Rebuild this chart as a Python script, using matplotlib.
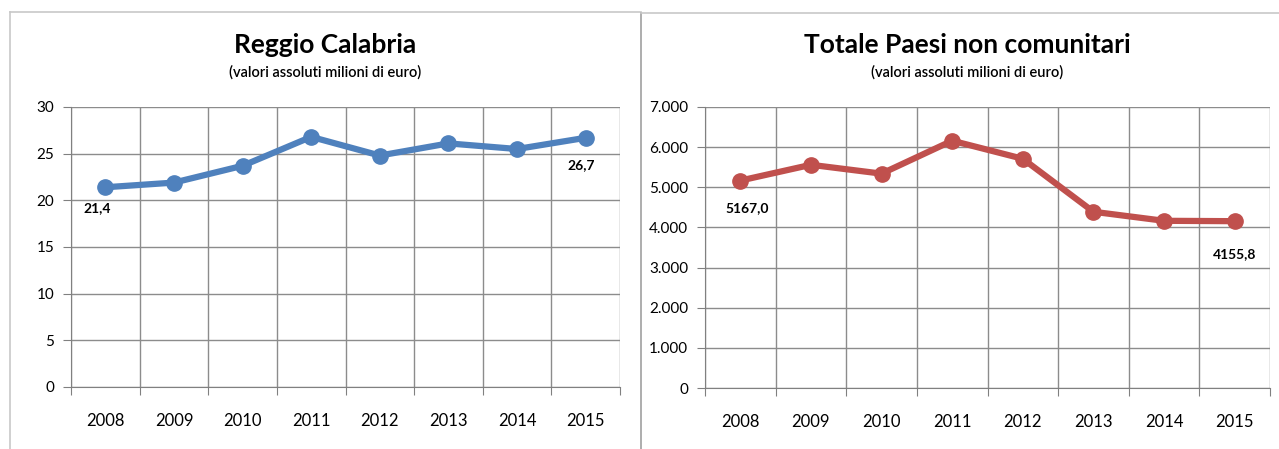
import matplotlib.pyplot as plt
from matplotlib.lines import Line2D
import numpy as np

years = ['2008', '2009', '2010', '2011', '2012', '2013', '2014', '2015']
reggio = [21.4, 21.9, 23.7, 26.8, 24.8, 26.1, 25.5, 26.7]
paesi = [5167.0, 5560, 5340, 6160, 5710, 4390, 4165, 4155.8]

plt.rcParams['font.family'] = ['Lato', 'DejaVu Sans']

fig = plt.figure(figsize=(12.79, 4.49), dpi=100)

# frames around the two charts
frame_col = '#c8c8c8'
fig.add_artist(Line2D([10/1279, 10/1279], [0, 1 - 12/449], color=frame_col, lw=1.2, transform=fig.transFigure))
fig.add_artist(Line2D([10/1279, 641/1279], [1 - 12/449, 1 - 12/449], color=frame_col, lw=1.2, transform=fig.transFigure))
fig.add_artist(Line2D([641/1279, 641/1279], [0, 1 - 13/449], color='#a0a0a0', lw=1.2, transform=fig.transFigure))
fig.add_artist(Line2D([641/1279, 1], [1 - 13/449, 1 - 13/449], color=frame_col, lw=1.2, transform=fig.transFigure))


def draw(rect, values, color, ymax, step, fmt, title, labels_txt, label_offsets):
    ax = fig.add_axes(rect)
    x = np.arange(len(years))
    ax.plot(x, values, color=color, lw=4.5, marker='o', ms=11, solid_capstyle='round')
    ax.set_xlim(-0.5, len(years) - 0.5)
    ax.set_ylim(0, ymax)
    ax.set_yticks(np.arange(0, ymax + step / 2, step))
    ax.set_yticklabels([fmt(v) for v in np.arange(0, ymax + step / 2, step)])
    ax.set_xticks(np.arange(-0.5, len(years), 1))
    ax.set_xticklabels([])
    ax.set_xticks(x, minor=True)
    ax.set_xticklabels(years, minor=True)
    ax.tick_params(axis='x', which='minor', length=0, pad=19, labelsize=12)
    ax.tick_params(axis='x', which='major', length=6, color='#808080')
    ax.tick_params(axis='y', length=6, color='#808080', labelsize=11, pad=6)
    ax.grid(True, which='major', color='#8c8c8c', lw=1)
    ax.set_axisbelow(True)
    for s in ['top', 'right']:
        ax.spines[s].set_visible(False)
    ax.spines['left'].set_color('#808080')
    ax.spines['bottom'].set_color('#808080')
    for i, txt in labels_txt.items():
        dx, dy = label_offsets[i]
        ax.annotate(txt, (i, values[i]), xytext=(dx, dy), textcoords='offset points',
                    ha='center', va='center', fontsize=10, fontweight='bold')
    cx = rect[0] + rect[2] / 2 - 20 / 1279
    fig.text(cx, 1 - 45/449, title, ha='center', va='center', fontsize=19, fontweight='bold')
    fig.text(cx, 1 - 72/449, '(valori assoluti milioni di euro)', ha='center', va='center',
             fontsize=10.5, fontweight='semibold')
    return ax


draw([71/1279, 1 - 387/449, 549/1279, 280/449], reggio, '#4F81BD', 30, 5,
     lambda v: f'{int(v)}', 'Reggio Calabria',
     {0: '21,4', 7: '26,7'}, {0: (-6, -15), 7: (-3, -20)})

draw([705/1279, 1 - 388/449, 565/1279, 281/449], paesi, '#C0504D', 7000, 1000,
     lambda v: f'{int(v):,}'.replace(',', '.'), 'Totale Paesi non comunitari',
     {0: '5167,0', 7: '4155,8'}, {0: (5, -20), 7: (0, -24)})

fig.savefig('out.png', dpi=100)
